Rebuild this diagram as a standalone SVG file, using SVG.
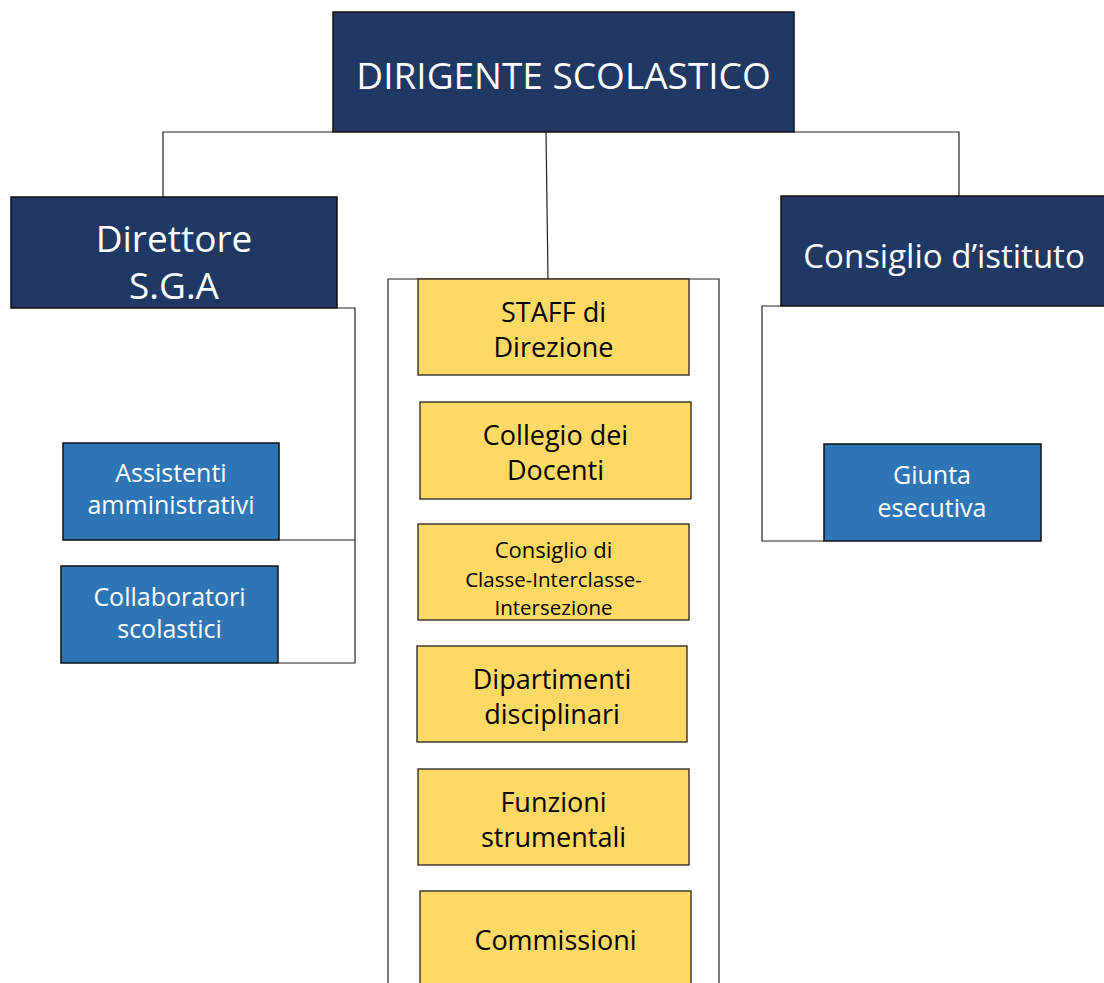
<svg xmlns="http://www.w3.org/2000/svg" width="1104" height="983" viewBox="0 0 1104 983">
<style>
.dark{fill:#203864;stroke:#111;stroke-width:1.5}
.blue{fill:#2E75B6;stroke:#111;stroke-width:1.5}
.yel{fill:#FFD966;stroke:#222;stroke-width:1.3}
.ln{fill:none;stroke:#222;stroke-width:1.2}
text{font-family:"Open Sans","Noto Sans",sans-serif;text-anchor:middle}
.w{fill:#fff}
.k{fill:#000}
.big{font-size:37px}
.sm{font-size:25px}
.ym{font-size:27px}
</style>
<rect width="1104" height="983" fill="#fff"/>
<g id="connectors">
<path class="ln" d="M333,132 H163 V197"/>
<path class="ln" d="M794,132 H959 V196"/>
<path class="ln" d="M546,132 L548,279"/>
<path class="ln" d="M337,308 H355 V663 H278"/>
<path class="ln" d="M279,540 H355"/>
<path class="ln" d="M781,306 H762 V541 H824"/>
<path class="ln" d="M388,990 V279 H719 V990"/>
</g>
<g id="dirigente">
<rect class="dark" x="333" y="12" width="461" height="120"/>
<text class="w big" x="563.5" y="89">DIRIGENTE SCOLASTICO</text>
</g>
<g id="direttore">
<rect class="dark" x="11" y="197" width="326" height="111"/>
<text class="w big" x="174" y="252">Direttore</text>
<text class="w big" x="174" y="299">S.G.A</text>
</g>
<g id="consiglio-istituto">
<rect class="dark" x="781" y="196" width="330" height="110"/>
<text class="w" x="944" y="268" font-size="33">Consiglio d’istituto</text>
</g>
<g id="assistenti">
<rect class="blue" x="63" y="443" width="216" height="97"/>
<text class="w sm" x="171" y="481.5">Assistenti</text>
<text class="w sm" x="171" y="513.5">amministrativi</text>
</g>
<g id="collaboratori">
<rect class="blue" x="61" y="566" width="217" height="97"/>
<text class="w sm" x="169.5" y="605.5">Collaboratori</text>
<text class="w sm" x="169.5" y="637.5">scolastici</text>
</g>
<g id="giunta">
<rect class="blue" x="824" y="444" width="217" height="97"/>
<text class="w sm" x="932" y="484">Giunta</text>
<text class="w sm" x="932" y="517">esecutiva</text>
</g>
<g id="staff">
<rect class="yel" x="418" y="279" width="271" height="96"/>
<text class="k ym" x="553.5" y="322">STAFF di</text>
<text class="k ym" x="553.5" y="357">Direzione</text>
</g>
<g id="collegio">
<rect class="yel" x="420" y="402" width="271" height="97"/>
<text class="k ym" x="555.5" y="445">Collegio dei</text>
<text class="k ym" x="555.5" y="479.5">Docenti</text>
</g>
<g id="consiglio-classe">
<rect class="yel" x="418" y="524" width="271" height="96"/>
<text class="k" x="553.5" y="558" font-size="22">Consiglio di</text>
<text class="k" x="553.5" y="586.5" font-size="20.5">Classe-Interclasse-</text>
<text class="k" x="553.5" y="614.5" font-size="20.5">Intersezione</text>
</g>
<g id="dipartimenti">
<rect class="yel" x="417" y="646" width="270" height="96"/>
<text class="k ym" x="552" y="689">Dipartimenti</text>
<text class="k ym" x="552" y="724">disciplinari</text>
</g>
<g id="funzioni">
<rect class="yel" x="418" y="769" width="271" height="96"/>
<text class="k ym" x="553.5" y="812">Funzioni</text>
<text class="k ym" x="553.5" y="847">strumentali</text>
</g>
<g id="commissioni">
<rect class="yel" x="420" y="891" width="271" height="100"/>
<text class="k ym" x="555.5" y="950">Commissioni</text>
</g>
</svg>
